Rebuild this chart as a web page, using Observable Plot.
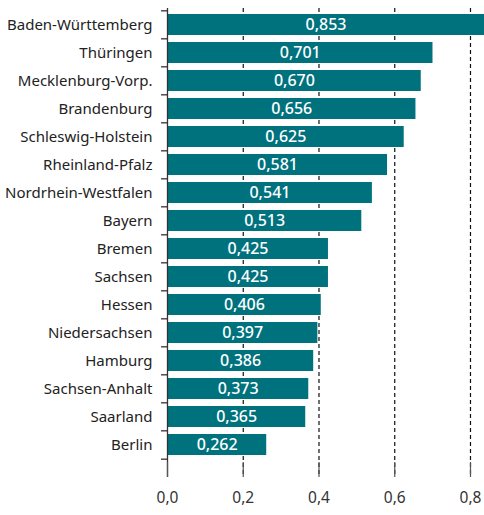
<!DOCTYPE html>
<html>
<head>
<meta charset="utf-8">
<script src="https://cdn.jsdelivr.net/npm/d3@7"></script>
<script src="https://cdn.jsdelivr.net/npm/@observablehq/plot@0.6"></script>
<style>
  html, body { margin: 0; padding: 0; background: #fff; overflow: hidden; }
</style>
</head>
<body>
<div id="chart"></div>
<script>
const states = ["Baden-Württemberg","Thüringen","Mecklenburg-Vorp.","Brandenburg","Schleswig-Holstein","Rheinland-Pfalz","Nordrhein-Westfalen","Bayern","Bremen","Sachsen","Hessen","Niedersachsen","Hamburg","Sachsen-Anhalt","Saarland","Berlin"];
const values = [0.853,0.701,0.670,0.656,0.625,0.581,0.541,0.513,0.425,0.425,0.406,0.397,0.386,0.373,0.365,0.262];
const xTicks = [0, 0.2, 0.4, 0.6, 0.8];
const gridTicks = [0.2, 0.4, 0.6, 0.8];

const data = states.map((name, i) => ({name, value: values[i]}));
const fmt = v => v.toFixed(3).replace(".", ",");
const W = 484, H = 515, mTop = 8, mBottom = 53, mLeft = 167;
const xMax = 0.837;
const step = (H - mTop - mBottom) / states.length;
const ext = 15;

const chart = Plot.plot({
  width: W,
  height: H,
  marginTop: mTop,
  marginBottom: mBottom,
  marginLeft: mLeft,
  marginRight: 0,
  style: {fontFamily: "'Noto Sans', sans-serif", fontSize: "15px", color: "#222", background: "#fff"},
  x: {domain: [0, xMax], label: null},
  y: {domain: states, paddingInner: 0.24, paddingOuter: 0.12, label: null},
  marks: [
    Plot.ruleX(gridTicks, {stroke: "#111", strokeWidth: 1.2, strokeDasharray: "4,3", insetBottom: -ext}),
    Plot.barX(data, {x: "value", y: "name", fill: "#00727e", clip: true}),
    Plot.ruleX([0], {stroke: "#333", strokeWidth: 1.3, insetBottom: -ext}),
    Plot.ruleY(states, {y: d => d, x1: 0, x2: 0, insetLeft: -6, dy: -step / 2, stroke: "#333", strokeWidth: 1.3}),
    Plot.ruleY(states.slice(-1), {y: d => d, x1: 0, x2: 0, insetLeft: -6, dy: step / 2, stroke: "#333", strokeWidth: 1.3}),
    Plot.text(data, {x: d => Math.min(d.value, xMax) / 2, y: "name", text: d => fmt(d.value), fill: "white", fontSize: 16, fontWeight: 500}),
    Plot.axisY({tickSize: 0, tickPadding: 15, fontSize: 15, fill: "#222", label: null}),
    Plot.axisX({ticks: xTicks, tickFormat: d => d.toFixed(1).replace(".", ","), tickSize: 0, tickPadding: ext + 14, fontSize: 15.5, fill: "#333", label: null}),
    Plot.ruleX(xTicks, {stroke: "#555", strokeWidth: 1.2, insetTop: (H - mTop - mBottom), insetBottom: -ext})
  ]
});
document.getElementById("chart").appendChild(chart);
</script>
</body>
</html>
